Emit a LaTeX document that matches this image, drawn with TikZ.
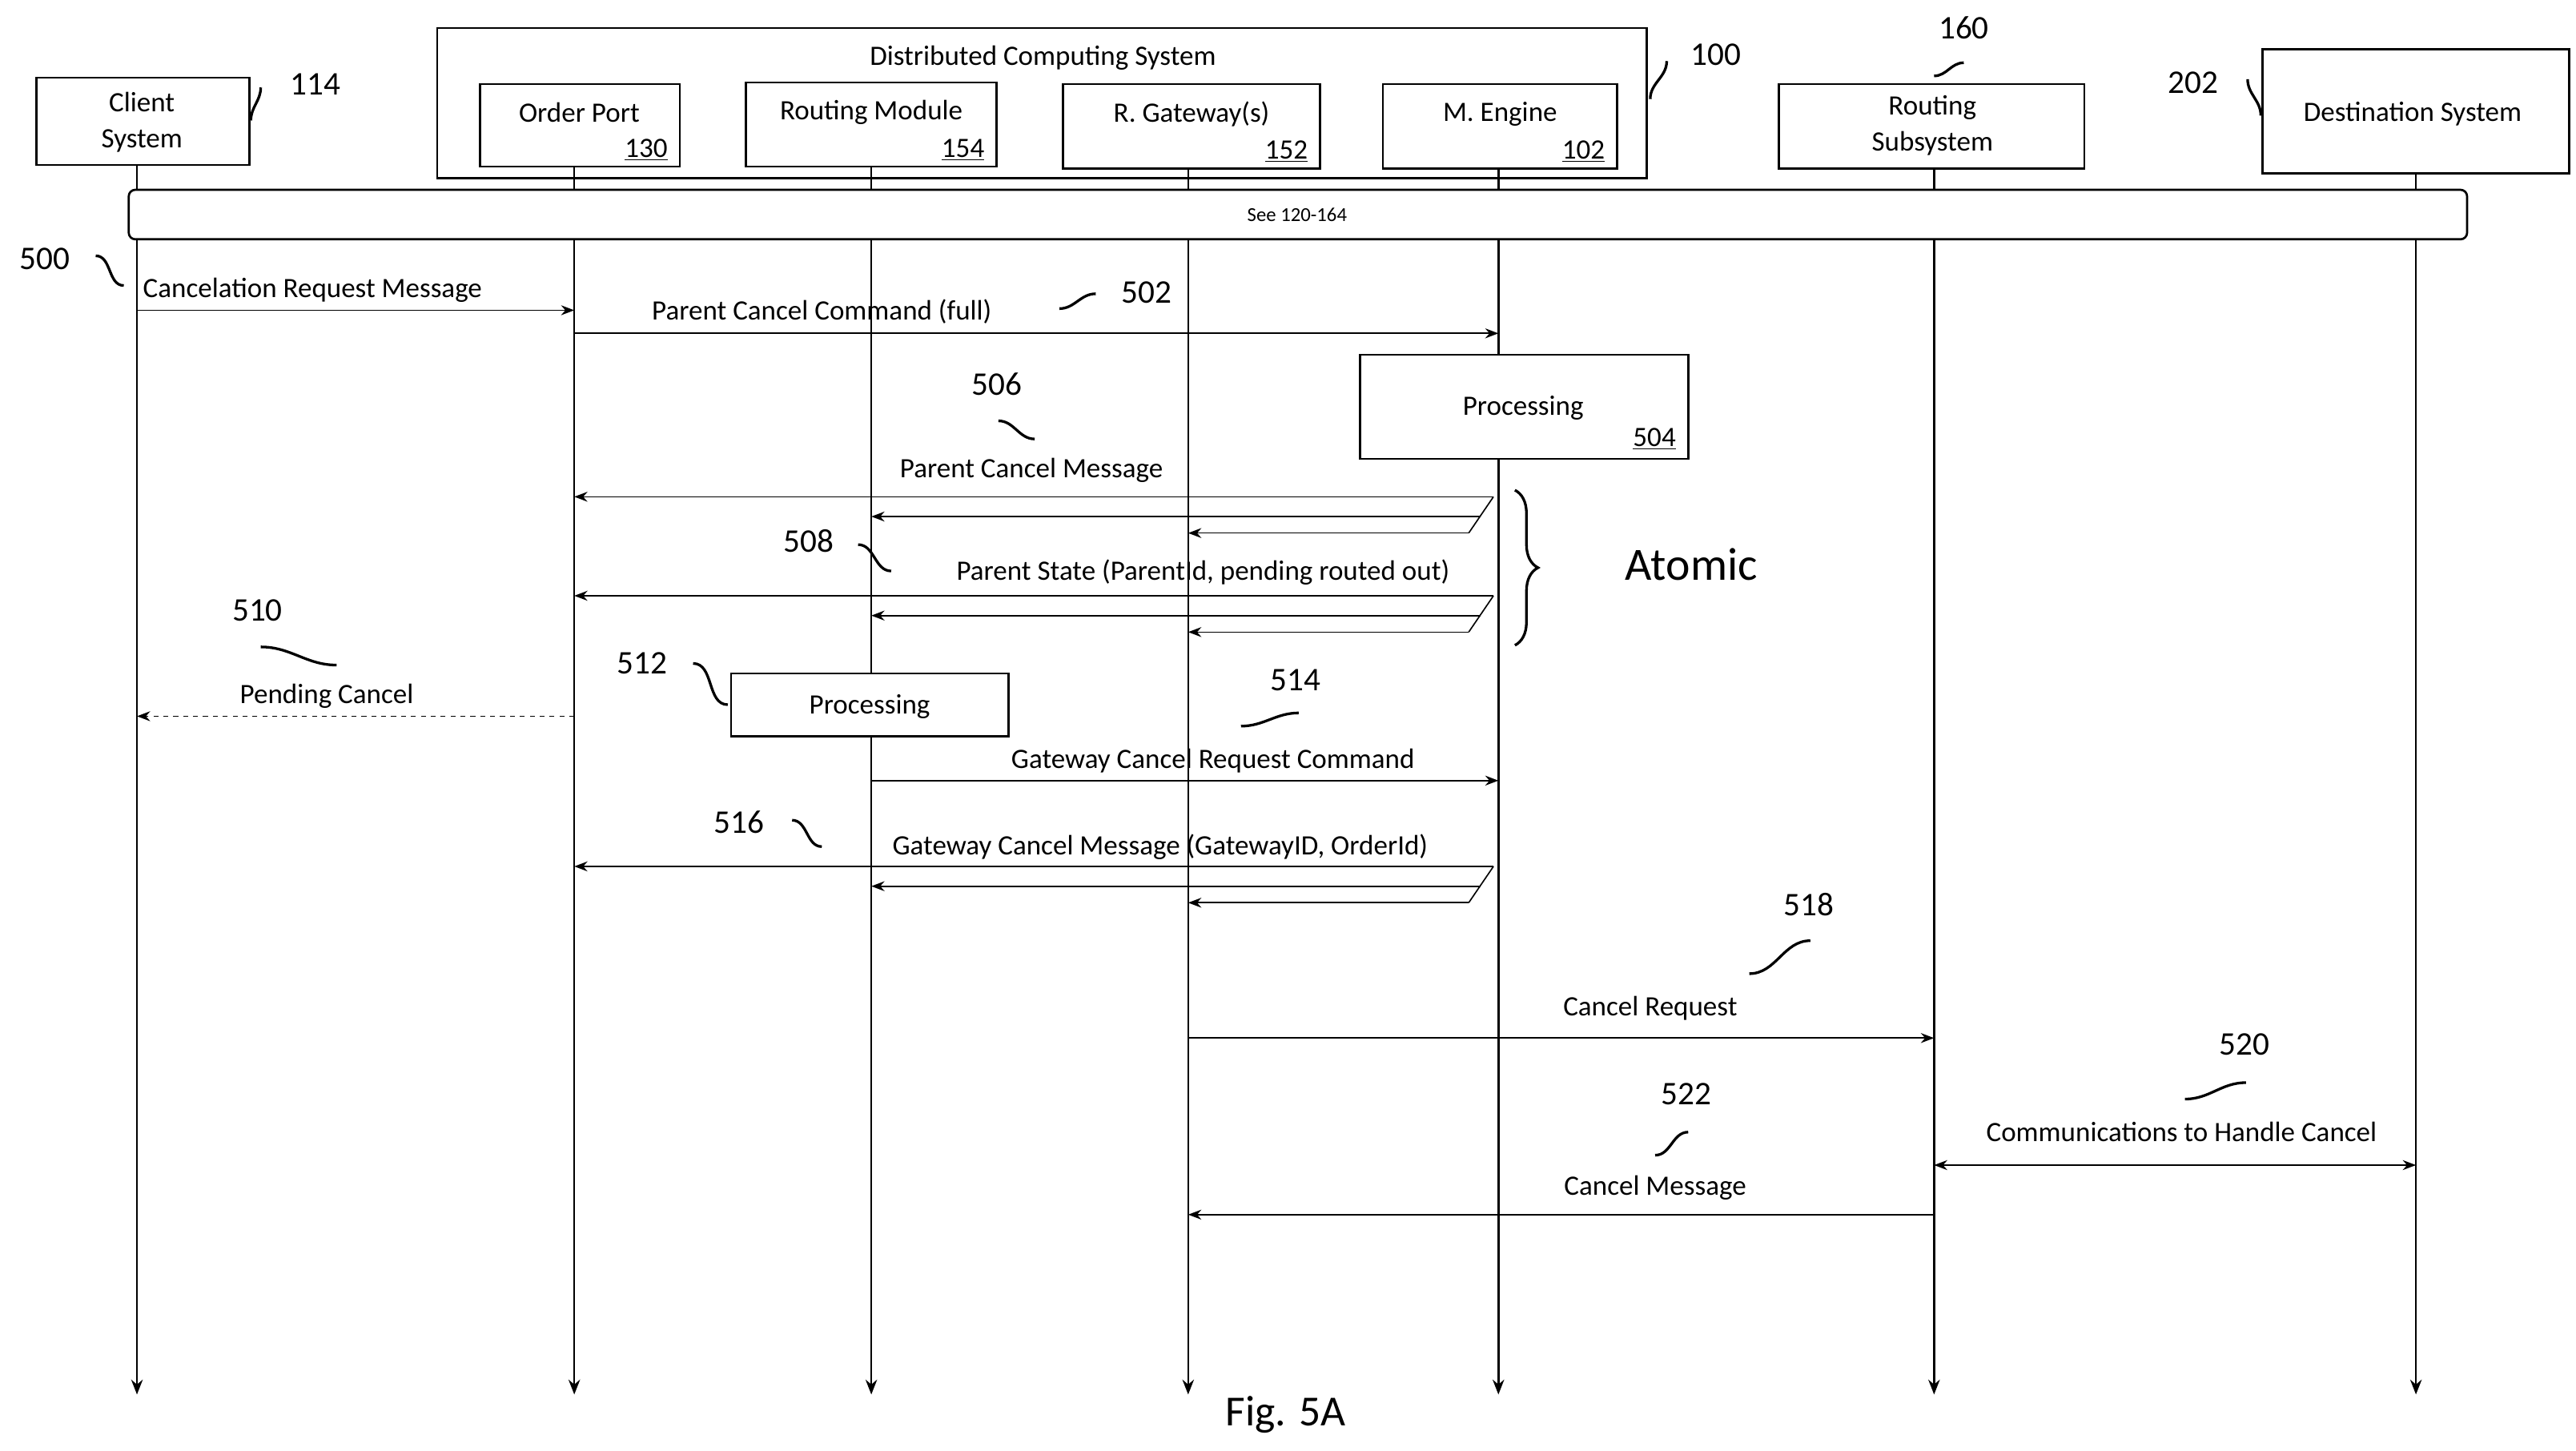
\documentclass[tikz,border=0pt]{standalone}
\usepackage{fontspec}
\setmainfont{Carlito}
\usetikzlibrary{arrows.meta,decorations.pathreplacing}
\begin{document}
\begin{tikzpicture}[x=1pt,y=-1pt,
  every node/.style={font=\fontsize{17}{19}\selectfont},
  box/.style={draw,line width=1.3pt,minimum height=0},
  msg/.style={-{Stealth[length=8pt,width=6pt]},line width=0.8pt},
  life/.style={-{Stealth[length=9pt,width=7pt]},line width=1.2pt},
  sq/.style={line width=1.6pt},
  num/.style={font=\fontsize{20}{22}\selectfont}]
\useasboundingbox (0,0) rectangle (1561,879);
% boxes
\draw[box] (265,17) rectangle (998,108);
\node at (632,35) {Distributed Computing System};
\draw[box] (22,47) rectangle (151,100);
\node[align=center,font=\fontsize{17}{22}\selectfont] (cli) at (86,74) {Client\\System};
\draw[box] (291,51) rectangle (412,101);
\node (op) at (351,68) {Order Port}; \node[anchor=south east] at (408,101) {\underline{130}};
\draw[box] (452,50) rectangle (604,101);
\node (rm) at (528,68) {Routing Module}; \node[anchor=south east] at (600,101) {\underline{154}};
\draw[box] (644,51) rectangle (800,102);
\node (gw) at (722,69) {R. Gateway(s)}; \node[anchor=south east] at (796,102) {\underline{152}};
\draw[box] (838,51) rectangle (980,102);
\node (me) at (909,69) {M. Engine}; \node[anchor=south east] at (976,102) {\underline{102}};
\draw[box] (1078,51) rectangle (1263,102);
\node[align=center,font=\fontsize{17}{22}\selectfont] (rs) at (1171,76) {Routing\\Subsystem};
\draw[box] (1371,30) rectangle (1557,105);
\node (ds) at (1462,69) {Destination System};
% lifelines
\foreach \n/\x/\t in {a/83/100,b/348/101,c/528/101,d/720/102,e/908/102,f/1172/102,g/1464/105}{
  \coordinate (\n t) at (\x,\t); \coordinate (\n b) at (\x,845);
  \draw[life] (\n t) -- (\n b);}
\draw[line width=1.3pt,rounded corners=4pt,fill=white] (78,115) rectangle (1495,145);
\node[font=\fontsize{12}{14}\selectfont] (see) at (786,130) {See 120-164};
% messages
\coordinate (e1) at (908,188);
\draw[msg] (83,188) -- (348,188) node[pos=0,anchor=south west,yshift=1pt] {Cancelation Request Message};
\draw[msg] (348,202) -- (908,202);
\node at (498,189) {Parent Cancel Command (full)};
\draw[line width=1.3pt,fill=white] (824,215) rectangle (1023,278);
\node (p1) at (923,247) {Processing}; \node[anchor=south east] at (1019,276) {\underline{504}};
% parent cancel
\node at (625,285) {Parent Cancel Message};
\draw[msg] (905,301) -- (348,301);
\draw[line width=0.8pt] (905,301) -- (890,323);
\draw[msg] (897,313) -- (528,313);
\draw[msg] (890,323) -- (720,323);
\node at (729,347) {Parent State (ParentId, pending routed out)};
\draw[msg] (905,361) -- (348,361);
\draw[line width=0.8pt] (905,361) -- (890,383);
\draw[msg] (897,373) -- (528,373);
\draw[msg] (890,383) -- (720,383);
\draw[decorate,decoration={brace,amplitude=14pt},line width=1.6pt] (918,297) -- (918,391);
\node[font=\fontsize{28}{30}\selectfont] (atom) at (1025,342) {Atomic};
% pending
\draw[msg,dashed] (348,434) -- (83,434);
\node at (198,422) {Pending Cancel};
\draw[line width=1.3pt,fill=white] (443,408) rectangle (611,446);
\node (p2) at (527,428) {Processing};
\draw[msg] (528,473) -- (908,473);
\node at (735,461) {Gateway Cancel Request Command};
\node at (703,513) {Gateway Cancel Message (GatewayID, OrderId)};
\draw[msg] (905,525) -- (348,525);
\draw[line width=0.8pt] (905,525) -- (890,547);
\draw[msg] (897,537) -- (528,537);
\draw[msg] (890,547) -- (720,547);
\draw[msg] (720,629) -- (1172,629);
\node at (1000,611) {Cancel Request};
\draw[{Stealth[length=8pt,width=6pt]}-{Stealth[length=8pt,width=6pt]},line width=0.8pt] (1172,706) -- (1464,706);
\node at (1322,686) {Communications to Handle Cancel};
\draw[msg] (1172,736) -- (720,736);
\node at (1003,720) {Cancel Message};
\node[font=\fontsize{26}{28}\selectfont] at (779,857) {Fig. 5A};
% reference numbers
\node[num] at (191,51) {114}; \draw[sq] (158,53) to[out=-90,in=90] (152,73);
\node[num] at (1040,33) {100}; \draw[sq] (1010,37) to[out=-90,in=90] (1000,60);
\node[num] at (1190,17) {160}; \draw[sq] (1172,46) to[out=0,in=180] (1190,38);
\node[num] at (1329,50) {202}; \draw[sq] (1362,48) to[out=-90,in=90] (1370,70);
\node[num] at (27,157) {500}; \draw[sq] (58,155) to[out=0,in=180] (75,173);
\node[num] at (695,177) {502}; \draw[sq] (642,187) to[out=0,in=180] (664,178);
\node[num] at (604,233) {506}; \draw[sq] (605,255) to[out=0,in=180] (627,266);
\node[num] at (490,328) {508}; \draw[sq] (520,330) to[out=0,in=180] (540,346);
\node[num] at (156,370) {510}; \draw[sq] (158,392) to[out=0,in=180] (204,403);
\node[num] at (389,402) {512}; \draw[sq] (420,402) to[out=0,in=180] (441,427);
\node[num] at (785,412) {514}; \draw[sq] (752,440) to[out=0,in=180] (787,432);
\node[num] at (448,498) {516}; \draw[sq] (480,497) to[out=0,in=180] (498,513);
\node[num] at (1096,548) {518}; \draw[sq] (1060,590) to[out=0,in=180] (1097,570);
\node[num] at (1360,633) {520}; \draw[sq] (1324,666) to[out=0,in=180] (1361,656);
\node[num] at (1022,663) {522}; \draw[sq] (1003,700) to[out=0,in=180] (1023,686);
\end{tikzpicture}
\end{document}
